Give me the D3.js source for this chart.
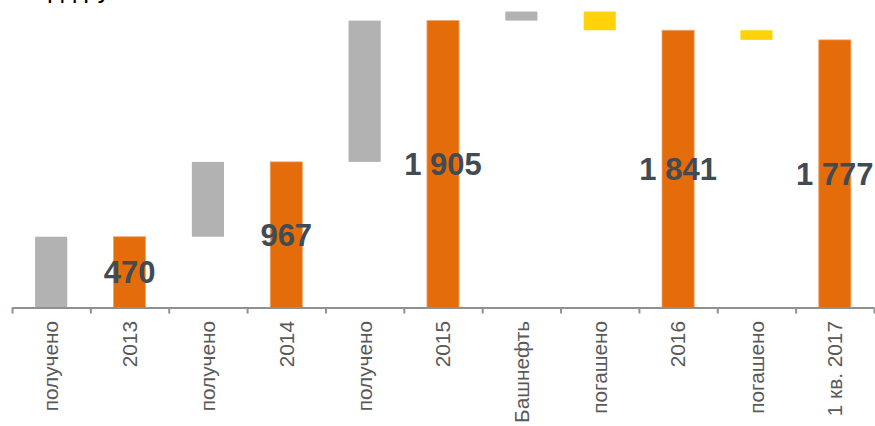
<!DOCTYPE html>
<html>
<head>
<meta charset="utf-8">
<script src="https://cdn.jsdelivr.net/npm/d3@7"></script>
<style>
  html, body { margin: 0; padding: 0; background: #fff; }
  svg { display: block; }
</style>
</head>
<body>
<svg id="chart" width="875" height="426"></svg>
<script>
// Waterfall of borrowings: totals by period and the changes between them
const categories = ["получено", "2013", "получено", "2014", "получено", "2015",
                    "Башнефть", "погашено", "2016", "погашено", "1 кв. 2017"];
// "inc" = increase, "dec" = decrease, "total" = running total bar
const kinds  = ["inc", "total", "inc", "total", "inc", "total",
                "inc", "dec", "total", "dec", "total"];
// change for inc/dec steps, level for totals
const values = [470, 470, 497, 967, 938, 1905, 60, -124, 1841, -64, 1777];
const totalLabels = ["470", "967", "1 905", "1 841", "1 777"];
const unitLabel = "млрд руб.";

const colors = { inc: "#b2b2b2", dec: "#ffd20a", total: "#e46c0a" };

// build floating segments
let running = 0, ti = 0;
const segs = categories.map((c, i) => {
  const k = kinds[i], v = values[i];
  let lo, hi, label = null;
  if (k === "total") {
    running = v; lo = 0; hi = v; label = totalLabels[ti++];
  } else {
    const start = running; running += v;
    lo = Math.min(start, running); hi = Math.max(start, running);
  }
  return { i, c, k, lo, hi, label };
});

const svg = d3.select("#chart");
const x0 = 12, x1 = 874, baseY = 307.5;

const x = d3.scaleBand()
  .domain(d3.range(categories.length))
  .range([x0, x1])
  .paddingInner(0.59)
  .paddingOuter(0.295);

const y = d3.scaleLinear().domain([0, 2000]).range([baseY, baseY - 301.2]);

// unit caption running off the top edge
svg.append("text")
  .attr("x", 14).attr("y", -2)
  .attr("font-family", "Liberation Sans, Arial, sans-serif")
  .attr("font-size", 26)
  .attr("fill", "#000")
  .text(unitLabel);

// bars
svg.append("g").selectAll("rect")
  .data(segs)
  .join("rect")
  .attr("x", d => x(d.i))
  .attr("width", x.bandwidth())
  .attr("y", d => y(d.hi))
  .attr("height", d => y(d.lo) - y(d.hi))
  .attr("fill", d => colors[d.k])
  .attr("stroke", d => d.k === "total" ? "#f3a46b" : "none")
  .attr("stroke-width", 0.8);

// axis with ticks at band boundaries
const edge = d3.scaleLinear().domain([0, categories.length]).range([x0, x1]);
const axisG = svg.append("g")
  .attr("transform", `translate(0,${baseY})`)
  .call(d3.axisBottom(edge)
    .tickValues(d3.range(categories.length + 1))
    .tickFormat("")
    .tickSize(6)
    .tickSizeOuter(0));
axisG.select(".domain").attr("stroke", "#8c9191").attr("stroke-width", 2);
axisG.selectAll(".tick line").attr("stroke", "#8c9191").attr("stroke-width", 2);

// rotated category labels
svg.append("g").selectAll("text")
  .data(segs)
  .join("text")
  .attr("transform", d => `translate(${x(d.i) + x.bandwidth() / 2},321) rotate(-90)`)
  .attr("dy", "0.35em")
  .attr("text-anchor", "end")
  .attr("font-family", "Liberation Sans, Arial, sans-serif")
  .attr("font-size", 20.8)
  .attr("fill", "#595959")
  .text(d => d.c);

// value labels centered on total bars
svg.append("g").selectAll("text")
  .data(segs.filter(d => d.label))
  .join("text")
  .attr("x", d => x(d.i) + x.bandwidth() / 2)
  .attr("y", d => (y(d.hi) + y(d.lo)) / 2)
  .attr("dy", "0.36em")
  .attr("text-anchor", "middle")
  .attr("font-family", "Liberation Sans, Arial, sans-serif")
  .attr("font-weight", "bold")
  .attr("font-size", 31)
  .attr("fill", "#404b52")
  .text(d => d.label);
</script>
</body>
</html>
